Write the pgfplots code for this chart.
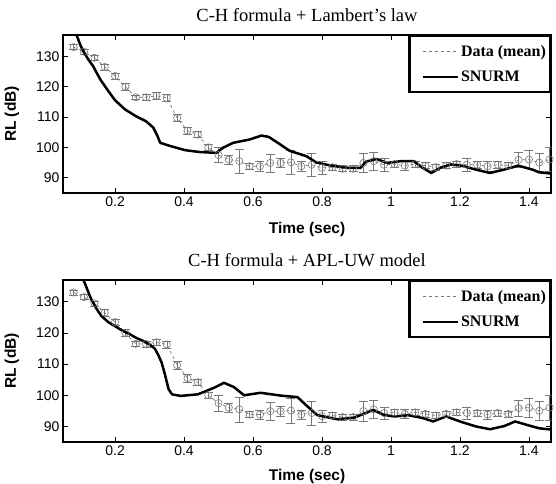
\documentclass[border=0pt]{standalone}
\usepackage{pgfplots}
\pgfplotsset{compat=1.18}
\usepackage{pgfplotstable}
\usepackage{fontspec}
\setmainfont{Liberation Serif}
\setsansfont{Liberation Sans}
\definecolor{dgray}{RGB}{120,120,120}

\pgfplotstableread{
t y e
0.08 133.0 0.8
0.11 131.5 0.8
0.14 129.5 0.8
0.17 126.5 1.0
0.20 123.5 1.0
0.23 120.0 1.2
0.26 116.5 0.8
0.29 116.5 1.0
0.32 117.0 1.0
0.35 116.3 1.2
0.38 109.7 1.2
0.41 105.5 1.2
0.44 104.2 1.0
0.47 100.0 1.0
0.50 97.5 2.5
0.53 96.0 1.5
0.56 95.5 4.0
0.59 93.8 1.0
0.62 93.8 1.5
0.65 94.9 3.0
0.68 94.9 1.5
0.71 95.1 4.0
0.74 93.8 1.5
0.77 94.3 3.8
0.80 93.3 2.0
0.83 93.5 1.0
0.86 93.0 1.0
0.89 93.0 1.0
0.92 94.9 3.2
0.95 95.5 3.0
0.98 94.3 2.0
1.01 94.5 1.0
1.04 94.0 1.5
1.07 94.5 1.0
1.10 94.0 1.0
1.13 93.5 1.0
1.16 94.0 1.0
1.19 94.5 1.0
1.22 94.3 2.0
1.25 94.3 1.0
1.28 93.8 1.5
1.31 94.3 1.0
1.34 94.0 1.0
1.37 95.9 2.5
1.40 96.0 3.0
1.43 95.0 3.0
1.46 96.0 4.0
}\datatab

\pgfplotstableread{
t y
0.085 138.0
0.100 133.5
0.110 131.2
0.125 128.5
0.136 126.8
0.157 122.4
0.177 119.1
0.200 115.5
0.229 112.5
0.260 110.3
0.290 108.6
0.311 106.5
0.322 104.0
0.331 101.5
0.362 100.4
0.403 99.1
0.444 98.5
0.494 98.2
0.513 99.9
0.542 101.5
0.590 102.6
0.624 103.9
0.645 103.5
0.668 101.8
0.706 98.9
0.755 97.1
0.784 95.0
0.832 93.9
0.876 93.3
0.912 93.3
0.927 95.3
0.958 96.2
0.989 94.9
1.030 95.5
1.066 95.5
1.092 93.3
1.117 91.6
1.143 93.3
1.174 94.4
1.205 94.0
1.246 92.7
1.287 91.6
1.328 92.7
1.369 94.0
1.410 92.7
1.430 91.8
1.465 91.4
}\snurmA

\pgfplotstableread{
t y
0.105 138.0
0.130 131.0
0.145 128.0
0.160 125.5
0.180 123.5
0.200 122.2
0.220 120.8
0.240 119.8
0.260 118.5
0.280 117.5
0.300 116.3
0.315 115.0
0.325 113.0
0.335 110.5
0.345 106.5
0.355 102.0
0.365 100.3
0.390 99.8
0.440 100.3
0.487 102.4
0.516 104.0
0.545 102.6
0.574 100.0
0.622 100.8
0.680 99.9
0.729 99.4
0.757 96.5
0.787 93.6
0.844 92.3
0.893 92.8
0.927 94.3
0.948 95.3
0.979 93.7
1.010 93.2
1.050 93.6
1.092 92.7
1.122 91.6
1.160 93.2
1.205 91.4
1.246 90.0
1.287 89.1
1.328 90.1
1.360 91.6
1.400 90.3
1.430 89.4
1.465 89.0
}\snurmB

\pgfplotsset{
  myaxis/.style={
    scale only axis, width=488pt, height=158pt,
    xmin=0.049, xmax=1.464, ymin=85, ymax=137,
    xtick={0.2,0.4,0.6,0.8,1,1.2,1.4},
    xticklabels={0.2,0.4,0.6,0.8,1,1.2,1.4},
    ytick={90,100,110,120,130},
    tick align=inside, major tick length=5pt,
    axis line style={line width=1.2pt},
    tick style={line width=0.8pt, black},
    tick label style={font=\fontsize{14}{14}\selectfont\sffamily},
    /pgf/number format/assume math mode=true,
    xlabel={Time (sec)}, ylabel={RL (dB)},
    label style={font=\fontsize{15.5}{15.5}\selectfont\sffamily\bfseries},
    xlabel style={at={(axis description cs:0.5,-0.228)}, anchor=center},
    ylabel style={at={(axis description cs:-0.105,0.5)}, anchor=center},
    title style={at={(axis description cs:0.5,1)}, anchor=base, yshift=8pt, font=\fontsize{18.5}{18.5}\selectfont},
    legend style={at={(axis description cs:1,1)}, anchor=north east, draw=black, line width=2.2pt,
      font=\fontsize{16}{16}\selectfont\bfseries, inner xsep=2pt, inner ysep=7pt, row sep=9pt,
      cells={anchor=west}, /tikz/every even column/.append style={column sep=9pt}},
    legend image code/.code={\path (-10pt,0pt); \draw[#1] (0pt,0pt) -- (35pt,0pt);},
  },
  dataplot/.style={dgray, dashed, line width=0.7pt, mark=o, mark size=3.6pt,
    mark options={solid, line width=0.6pt}},
  snurm/.style={black, line width=2.5pt, line join=round},
}

\begin{document}
\begin{tikzpicture}[x=1pt,y=1pt]
\path[use as bounding box] (0,0) rectangle (556,483);
\begin{axis}[myaxis, at={(63pt,290pt)}, anchor=south west, title={C-H formula + Lambert’s law}]
\addplot[dataplot, error bars/.cd, y dir=both, y explicit,
  error bar style={dgray, solid, line width=0.5pt},
  error mark options={rotate=90, dgray, mark size=4.5pt, line width=0.5pt}]
  table[x=t, y=y, y error=e] {\datatab};
\addlegendentry{Data (mean)}
\addplot[snurm] table[x=t, y=y] {\snurmA};
\addlegendentry{SNURM}
\end{axis}
\begin{axis}[myaxis, height=162pt, at={(63pt,41pt)}, anchor=south west, title={C-H formula + APL-UW model},
  xlabel style={at={(axis description cs:0.5,-0.215)}}]
\addplot[dataplot, error bars/.cd, y dir=both, y explicit,
  error bar style={dgray, solid, line width=0.5pt},
  error mark options={rotate=90, dgray, mark size=4.5pt, line width=0.5pt}]
  table[x=t, y=y, y error=e] {\datatab};
\addlegendentry{Data (mean)}
\addplot[snurm] table[x=t, y=y] {\snurmB};
\addlegendentry{SNURM}
\end{axis}
\end{tikzpicture}
\end{document}
